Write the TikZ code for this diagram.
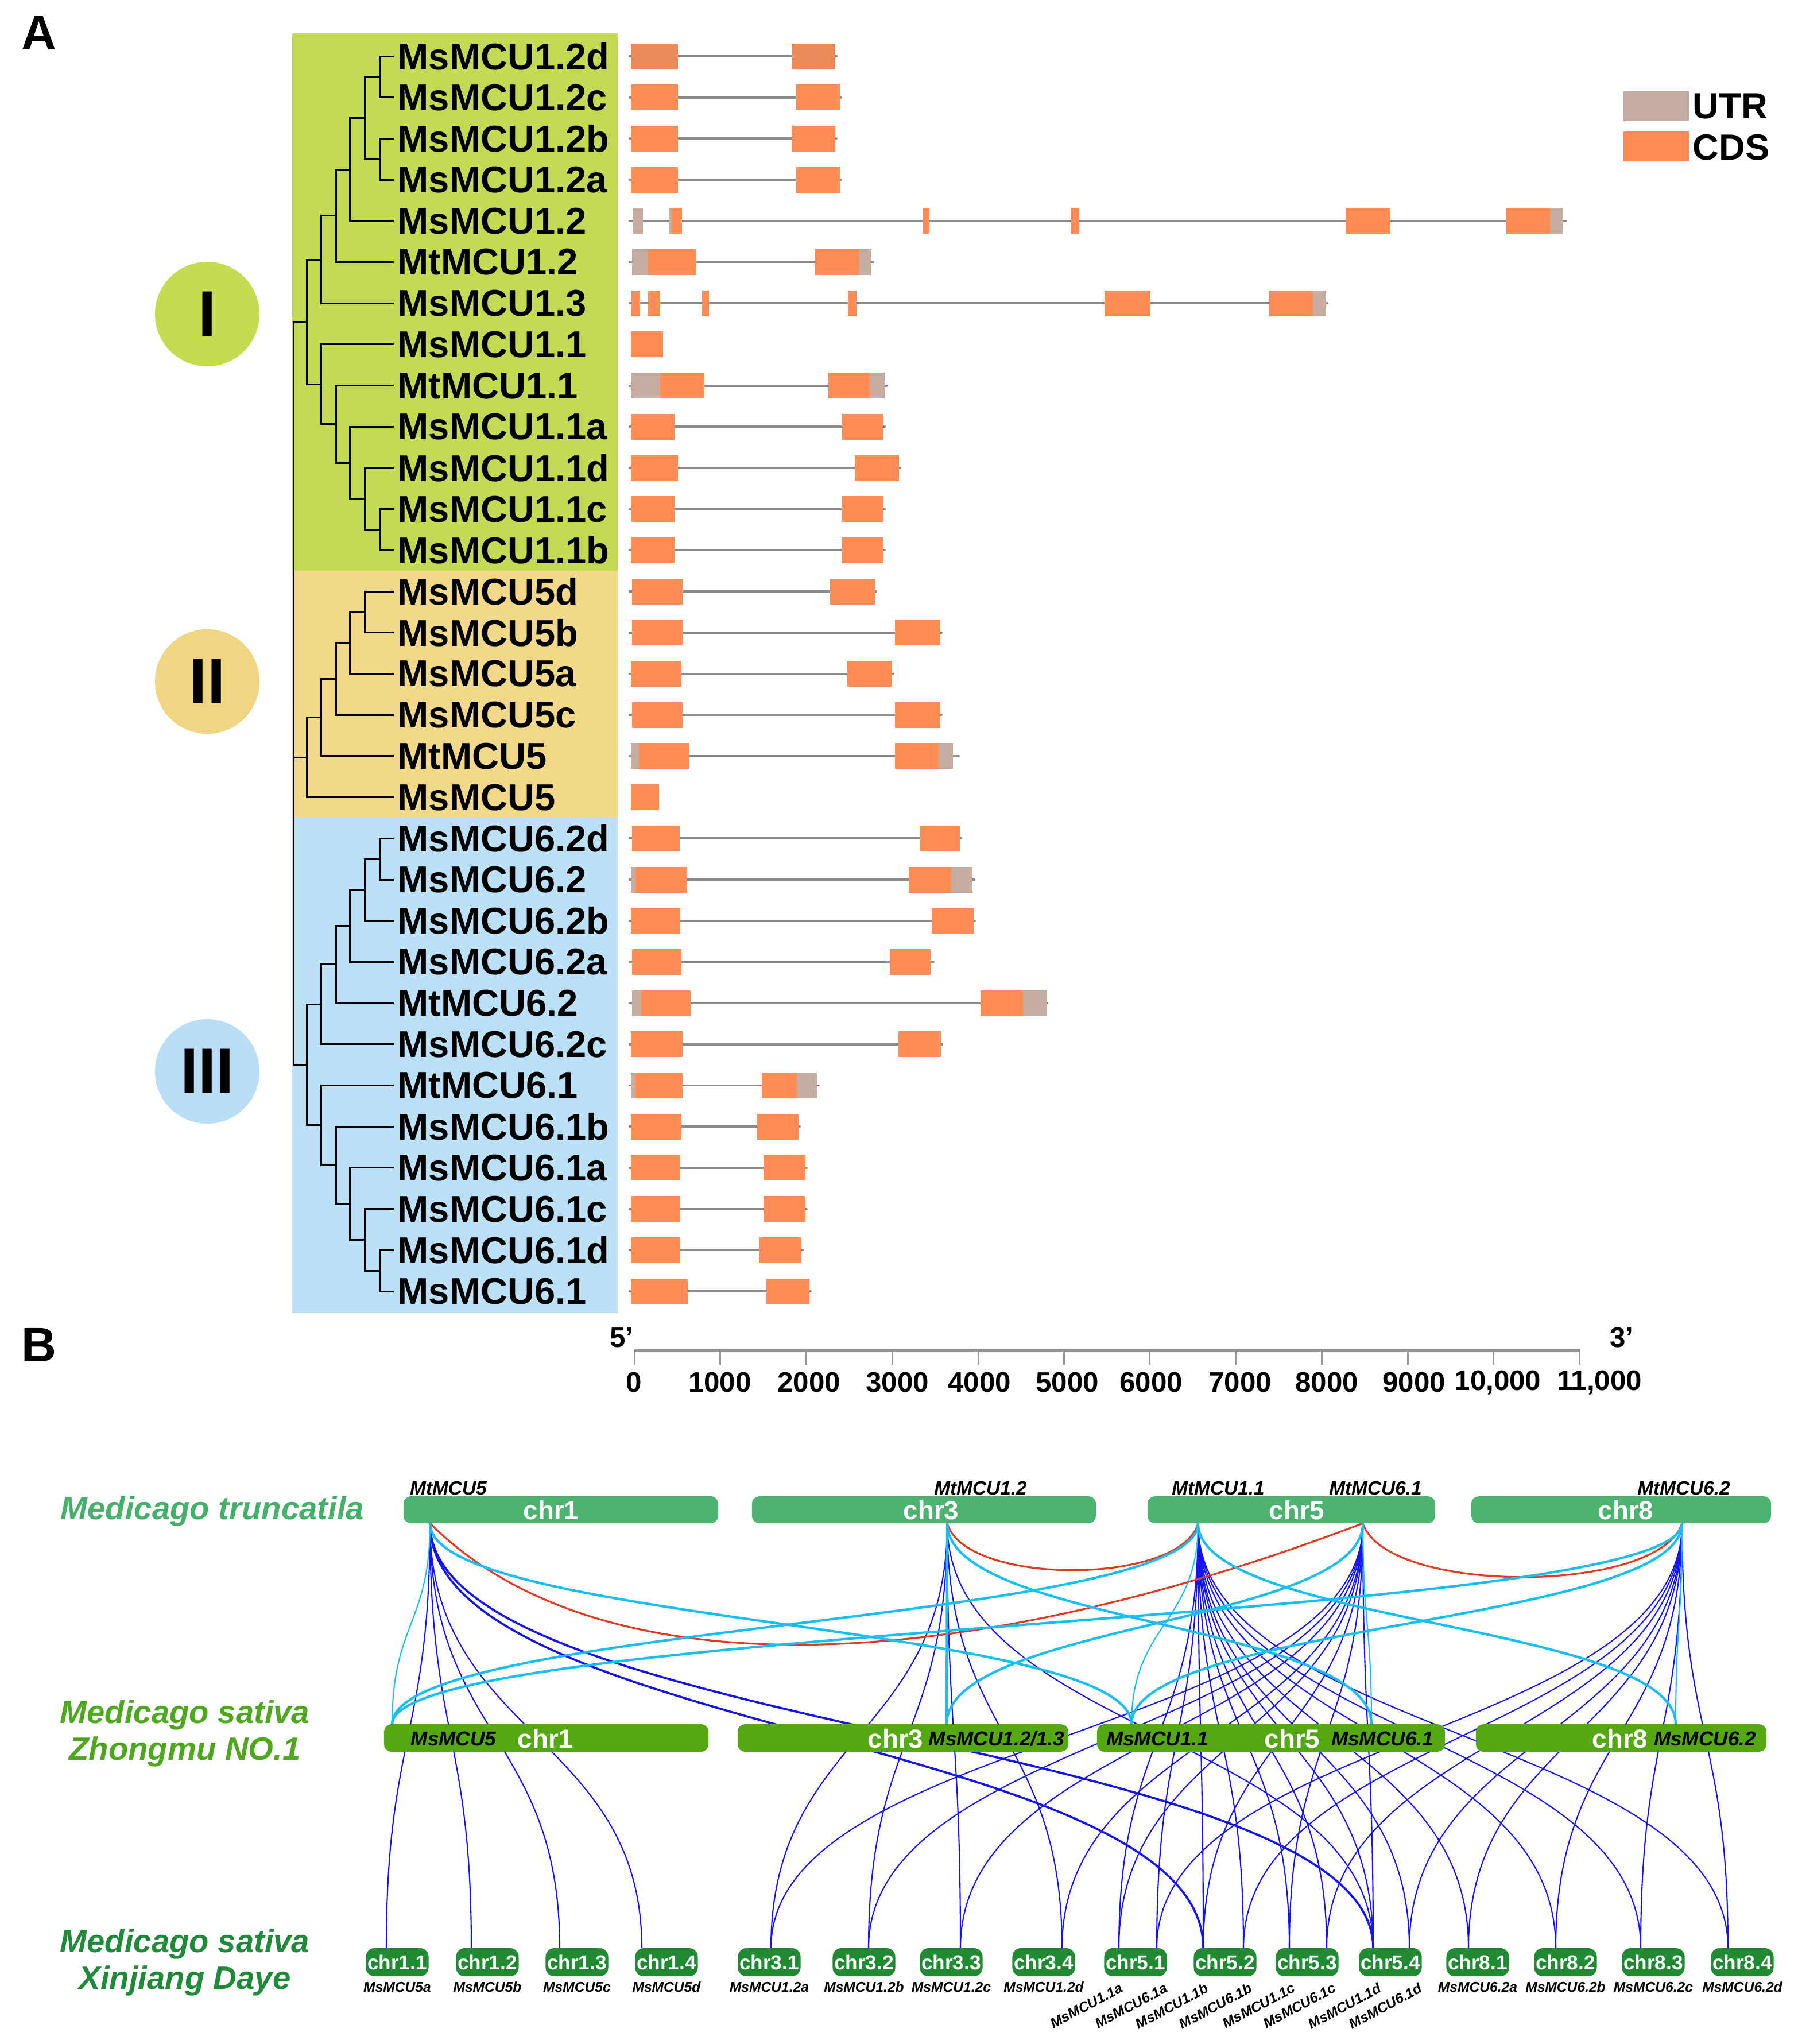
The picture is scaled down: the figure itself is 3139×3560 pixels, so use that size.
\documentclass[tikz,border=0pt]{standalone}
\usepackage{fontspec}
\setmainfont{Liberation Sans}
\newcommand{\fsz}[1]{\fontsize{#1}{#1}\selectfont}
\definecolor{cdsc}{RGB}{255,140,84}
\definecolor{cdsdark}{RGB}{233,138,88}
\definecolor{utrc}{RGB}{196,173,160}
\definecolor{intc}{RGB}{138,138,138}
\definecolor{grpI}{RGB}{196,217,84}
\definecolor{grpII}{RGB}{242,217,138}
\definecolor{grpIII}{RGB}{188,224,246}
\definecolor{circI}{RGB}{198,218,82}
\definecolor{circII}{RGB}{240,213,130}
\definecolor{circIII}{RGB}{186,222,245}
\definecolor{topc}{RGB}{77,179,112}
\definecolor{midc}{RGB}{84,168,20}
\definecolor{botc}{RGB}{33,139,52}
\definecolor{spA}{RGB}{69,176,106}
\definecolor{spB}{RGB}{78,168,30}
\definecolor{spC}{RGB}{31,139,58}
\definecolor{lnblue}{RGB}{20,20,240}
\definecolor{lncyan}{RGB}{25,190,245}
\definecolor{lnred}{RGB}{226,58,30}
\definecolor{axc}{RGB}{150,150,150}
\newcommand{\rowy}[1]{\pgfmathsetmacro{\ry}{98+71.7*#1}}
\newcommand{\intronln}[3]{\rowy{#1}\draw[intronst] (#2,\ry) -- (#3,\ry);}
\newcommand{\cdsbox}[3]{\rowy{#1}\fill[cdsc] (#2,{\ry-22.5}) rectangle (#3,{\ry+22.5});}
\newcommand{\cdsdk}[3]{\rowy{#1}\fill[cdsdark] (#2,{\ry-22.5}) rectangle (#3,{\ry+22.5});}
\newcommand{\utrbox}[3]{\rowy{#1}\fill[utrc] (#2,{\ry-22.5}) rectangle (#3,{\ry+22.5});}
\newcommand{\treebrk}[5]{\draw[treeln] (#2,#3) -- (#1,#3) -- (#1,#5) -- (#4,#5);}
\newcommand{\synTB}[3][]{\draw[blueln,#1] (#2) .. controls +(0,370) and +(0,-370) .. (#3);}
\newcommand{\synTM}[3][]{\draw[cyanln,#1] (#2) .. controls +(0,175) and +(0,-175) .. (#3);}
\begin{document}
\begin{tikzpicture}[x=0.01cm,y=-0.01cm,
  treeln/.style={line width=0.85pt,black},
  intronst/.style={draw=intc,line width=1.1pt,line cap=round},
  glabel/.style={anchor=west,inner sep=0pt,font=\fsz{18.5}\bfseries},
  grpcirc/.style={circle,inner sep=0pt,minimum size=1.82cm,font=\fsz{32}\bfseries},
  leglab/.style={anchor=west,inner sep=0pt,font=\fsz{18}\bfseries},
  numlab/.style={inner sep=0pt,font=\fsz{14}\bfseries},
  panlab/.style={inner sep=0pt,font=\fsz{24}\bfseries},
  blueln/.style={draw=lnblue,line width=0.6pt},
  cyanln/.style={draw=lncyan,line width=1.2pt},
  thincy/.style={line width=0.6pt},
  redln/.style={draw=lnred,line width=0.9pt},
  topchr/.style={fill=topc,rounded corners=0.13cm,minimum height=0.47cm,inner sep=0pt},
  midchr/.style={fill=midc,rounded corners=0.13cm,minimum height=0.48cm,inner sep=0pt},
  botchr/.style={fill=botc,rounded corners=0.15cm,minimum height=0.49cm,minimum width=1.09cm,inner sep=0pt,text=white,font=\fsz{10}\bfseries},
  chrlab/.style={inner sep=0pt,text=white,font=\fsz{13}\bfseries},
  mslab/.style={inner sep=0pt,font=\fsz{10}\bfseries\itshape},
  mtlab/.style={inner sep=0pt,font=\fsz{9.5}\bfseries\itshape},
  blab/.style={inner sep=0pt,font=\fsz{7}\bfseries\itshape},
  splab/.style={inner sep=0pt,align=center,font=\fontsize{16}{18.2}\selectfont\bfseries\itshape}
]
\useasboundingbox (0,0) rectangle (3139,3560);
\fill[white] (0,0) rectangle (3139,3560);

% ---------------- Panel A ----------------
\node[panlab] (labA) at (68,57) {A};
\fill[grpI] (509,58) rectangle (1076,994);
\fill[grpII] (509,994) rectangle (1076,1424);
\fill[grpIII] (509,1424) rectangle (1076,2287);

\node[grpcirc,fill=circI] (cI) at (361,547) {I};
\node[grpcirc,fill=circII] (cII) at (361,1187) {II};
\node[grpcirc,fill=circIII] (cIII) at (361,1866) {III};

% tree: group I
\treebrk{661}{686}{98}{686}{169.7}
\treebrk{661}{686}{241.4}{686}{313.1}
\treebrk{635}{661}{133.85}{661}{277.25}
\treebrk{609}{635}{205.55}{686}{384.8}
\treebrk{585}{609}{295.2}{686}{456.5}
\treebrk{559}{585}{375.85}{686}{528.2}
\treebrk{661}{686}{886.7}{686}{958.4}
\treebrk{635}{686}{815}{661}{922.55}
\treebrk{609}{686}{743.3}{635}{868.8}
\treebrk{585}{686}{671.6}{609}{806.05}
\treebrk{559}{686}{599.9}{585}{738.8}
\treebrk{534}{559}{452.0}{559}{669.35}
% group II
\treebrk{635}{686}{1030.1}{686}{1101.8}
\treebrk{609}{635}{1065.95}{686}{1173.5}
\treebrk{585}{609}{1119.7}{686}{1245.2}
\treebrk{559}{585}{1182.45}{686}{1316.9}
\treebrk{534}{559}{1249.7}{686}{1388.6}
% group III
\treebrk{661}{686}{1460.3}{686}{1532.0}
\treebrk{635}{661}{1496.15}{686}{1603.7}
\treebrk{609}{635}{1549.9}{686}{1675.4}
\treebrk{585}{609}{1612.65}{686}{1747.1}
\treebrk{559}{585}{1679.9}{686}{1818.8}
\treebrk{661}{686}{2177.3}{686}{2249.0}
\treebrk{635}{686}{2105.6}{661}{2213.15}
\treebrk{609}{686}{2033.9}{635}{2159.4}
\treebrk{585}{686}{1962.2}{609}{2096.65}
\treebrk{559}{686}{1890.5}{585}{2029.4}
\treebrk{534}{559}{1749.35}{559}{1959.95}
% root
\treebrk{511}{534}{560.7}{534}{1854.65}
\draw[treeln] (511,1319.15) -- (534,1319.15);

% gene labels
\foreach \i/\gname in {0/MsMCU1.2d,1/MsMCU1.2c,2/MsMCU1.2b,3/MsMCU1.2a,4/MsMCU1.2,5/MtMCU1.2,6/MsMCU1.3,7/MsMCU1.1,8/MtMCU1.1,9/MsMCU1.1a,10/MsMCU1.1d,11/MsMCU1.1c,12/MsMCU1.1b,13/MsMCU5d,14/MsMCU5b,15/MsMCU5a,16/MsMCU5c,17/MtMCU5,18/MsMCU5,19/MsMCU6.2d,20/MsMCU6.2,21/MsMCU6.2b,22/MsMCU6.2a,23/MtMCU6.2,24/MsMCU6.2c,25/MtMCU6.1,26/MsMCU6.1b,27/MsMCU6.1a,28/MsMCU6.1c,29/MsMCU6.1d,30/MsMCU6.1}
{\rowy{\i}\node[glabel] (g\i) at (692,\ry) {\gname};}

% gene structures
\intronln{0}{1097}{1457}\cdsdk{0}{1099}{1181}\cdsdk{0}{1380}{1455}
\intronln{1}{1097}{1465}\cdsbox{1}{1099}{1181}\cdsbox{1}{1387}{1463}
\intronln{2}{1097}{1457}\cdsbox{2}{1099}{1181}\cdsbox{2}{1380}{1455}
\intronln{3}{1097}{1465}\cdsbox{3}{1099}{1181}\cdsbox{3}{1387}{1463}
\intronln{4}{1097}{2727}\utrbox{4}{1102}{1120}\utrbox{4}{1165}{1170}\cdsbox{4}{1170}{1188}\cdsbox{4}{1608}{1619}\cdsbox{4}{1866}{1880}\cdsbox{4}{2344}{2422}\cdsbox{4}{2624}{2700}\utrbox{4}{2700}{2723}
\intronln{5}{1097}{1521}\utrbox{5}{1101}{1129}\cdsbox{5}{1129}{1213}\cdsbox{5}{1420}{1496}\utrbox{5}{1496}{1517}
\intronln{6}{1097}{2312}\cdsbox{6}{1100}{1115}\cdsbox{6}{1129}{1150}\cdsbox{6}{1223}{1235}\cdsbox{6}{1477}{1492}\cdsbox{6}{1924}{2004}\cdsbox{6}{2211}{2287}\utrbox{6}{2287}{2310}
\cdsbox{7}{1099}{1155}
\intronln{8}{1097}{1545}\utrbox{8}{1099}{1150}\cdsbox{8}{1150}{1227}\cdsbox{8}{1443}{1515}\utrbox{8}{1515}{1541}
\intronln{9}{1097}{1541}\cdsbox{9}{1099}{1175}\cdsbox{9}{1467}{1538}
\intronln{10}{1097}{1568}\cdsbox{10}{1099}{1181}\cdsbox{10}{1489}{1566}
\intronln{11}{1097}{1541}\cdsbox{11}{1099}{1175}\cdsbox{11}{1467}{1538}
\intronln{12}{1097}{1541}\cdsbox{12}{1099}{1175}\cdsbox{12}{1467}{1538}
\intronln{13}{1097}{1526}\cdsbox{13}{1101}{1189}\cdsbox{13}{1446}{1524}
\intronln{14}{1097}{1640}\cdsbox{14}{1101}{1189}\cdsbox{14}{1559}{1638}
\intronln{15}{1097}{1556}\cdsbox{15}{1099}{1187}\cdsbox{15}{1476}{1554}
\intronln{16}{1097}{1640}\cdsbox{16}{1101}{1189}\cdsbox{16}{1559}{1638}
\intronln{17}{1097}{1670}\utrbox{17}{1099}{1113}\cdsbox{17}{1113}{1200}\cdsbox{17}{1559}{1635}\utrbox{17}{1635}{1660}
\cdsbox{18}{1099}{1148}
\intronln{19}{1097}{1674}\cdsbox{19}{1101}{1184}\cdsbox{19}{1603}{1672}
\intronln{20}{1097}{1697}\utrbox{20}{1099}{1107}\cdsbox{20}{1107}{1197}\cdsbox{20}{1583}{1657}\utrbox{20}{1657}{1694}
\intronln{21}{1097}{1698}\cdsbox{21}{1099}{1185}\cdsbox{21}{1623}{1696}
\intronln{22}{1097}{1626}\cdsbox{22}{1101}{1187}\cdsbox{22}{1550}{1621}
\intronln{23}{1097}{1824}\utrbox{23}{1101}{1117}\cdsbox{23}{1117}{1203}\cdsbox{23}{1708}{1782}\utrbox{23}{1782}{1824}
\intronln{24}{1097}{1641}\cdsbox{24}{1099}{1189}\cdsbox{24}{1565}{1639}
\intronln{25}{1097}{1426}\utrbox{25}{1099}{1107}\cdsbox{25}{1107}{1189}\cdsbox{25}{1327}{1388}\utrbox{25}{1388}{1423}
\intronln{26}{1097}{1393}\cdsbox{26}{1099}{1187}\cdsbox{26}{1319}{1391}
\intronln{27}{1097}{1405}\cdsbox{27}{1099}{1185}\cdsbox{27}{1330}{1403}
\intronln{28}{1097}{1405}\cdsbox{28}{1099}{1185}\cdsbox{28}{1330}{1403}
\intronln{29}{1097}{1398}\cdsbox{29}{1099}{1185}\cdsbox{29}{1323}{1396}
\intronln{30}{1097}{1412}\cdsbox{30}{1099}{1198}\cdsbox{30}{1335}{1410}

% legend
\fill[utrc] (2828,159) rectangle (2942,211);
\node[leglab] (legU) at (2948,185) {UTR};
\fill[cdsc] (2828,229) rectangle (2942,281);
\node[leglab] (legC) at (2948,257) {CDS};

% axis
\draw[axc,line width=1.4pt] (1105,2352) -- (2752,2352);
\foreach \k in {0,...,11} {\draw[axc,line width=0.7pt] ({1105+149.7*\k},2352) -- ({1105+149.7*\k},2377);}
\node[numlab] (p5) at (1083,2330) {5'};
\node[numlab] (p3) at (2825,2330) {3'};
\foreach \lab/\xx in {0/1104,1000/1254,2000/1409,3000/1563,4000/1706,5000/1859,6000/2005,7000/2160,8000/2311,9000/2463}
{\node[numlab] (n\lab) at (\xx,2408) {\lab};}
\node[numlab] (n10k) at (2609,2408) {10,000};
\node[numlab] (n11k) at (2786,2408) {11,000};

% ---------------- Panel B ----------------
\node[panlab] (labB) at (68,2342) {B};
\node[splab,text=spA] (spMt) at (370,2632) {Medicago truncatila};
\node[splab,text=spB] (spZh) at (322,3019) {Medicago sativa\\Zhongmu NO.1};
\node[splab,text=spC] (spXj) at (322,3418) {Medicago sativa\\Xinjiang Daye};

% gene anchor points
\coordinate (t5) at (749,2653);
\coordinate (t12) at (1650,2653);
\coordinate (t11) at (2087,2653);
\coordinate (t61) at (2374,2653);
\coordinate (t62) at (2930,2653);
\coordinate (m5) at (683,3003);
\coordinate (m12) at (1649,3003);
\coordinate (m11) at (1971,3003);
\coordinate (m61) at (2389,3003);
\coordinate (m62) at (2919,3003);
\coordinate (b1a) at (673,3393);
\coordinate (b1b) at (821,3393);
\coordinate (b1c) at (975,3393);
\coordinate (b1d) at (1118,3393);
\coordinate (b3a) at (1343,3393);
\coordinate (b3b) at (1513,3393);
\coordinate (b3c) at (1673,3393);
\coordinate (b3d) at (1850,3393);
\coordinate (b11a) at (1949,3393);
\coordinate (b61a) at (2015,3393);
\coordinate (b11b) at (2096,3393);
\coordinate (b61b) at (2166,3393);
\coordinate (b11c) at (2246,3393);
\coordinate (b61c) at (2311,3393);
\coordinate (b11d) at (2392,3393);
\coordinate (b61d) at (2455,3393);
\coordinate (b8a) at (2558,3393);
\coordinate (b8b) at (2710,3393);
\coordinate (b8c) at (2858,3393);
\coordinate (b8d) at (3010,3393);

% blue links
\foreach \e in {b1a,b1b,b1c,b1d} {\synTB{t5}{\e}}
\synTB[line width=1.05pt]{t5}{b11b}
\synTB[line width=1.05pt]{t5}{b11d}
\foreach \e in {b3a,b3b,b3c,b3d,b11d} {\synTB{t12}{\e}}
\foreach \e in {b11a,b61a,b11b,b61b,b11c,b61c,b11d,b61d,b8a,b8b,b8c,b8d} {\synTB{t11}{\e}}
\foreach \e in {b3a,b3b,b3c,b3d,b11a,b11b,b11c,b11d} {\synTB{t61}{\e}}
\foreach \e in {b61a,b61b,b61c,b61d,b8a,b8b,b8c,b8d} {\synTB{t62}{\e}}

% red links
\draw[redln] (t5) .. controls +(290,290) and +(-720,274) .. (t61);
\draw[redln] (t12) .. controls +(30,109) and +(-30,109) .. (t11);
\draw[redln] (t61) .. controls +(40,125) and +(-40,125) .. (t62);

% cyan links
\synTM[thincy]{t5}{m5}
\synTM{t5}{m11}
\synTM{t12}{m12}
\synTM{t12}{m61}
\synTM{t11}{m5}
\synTM[thincy]{t11}{m11}
\synTM{t11}{m62}
\synTM{t61}{m12}
\synTM[thincy]{t61}{m61}
\synTM{t62}{m5}
\synTM{t62}{m11}
\synTM[thincy]{t62}{m62}

% top chromosomes
\node[topchr,minimum width=5.48cm] (tc1) at (977,2629.5) {};
\node[topchr,minimum width=5.99cm] (tc3) at (1609.5,2629.5) {};
\node[topchr,minimum width=5.01cm] (tc5) at (2249.5,2629.5) {};
\node[topchr,minimum width=5.22cm] (tc8) at (2824,2629.5) {};
\node[chrlab] (tc1l) at (960,2630) {chr1};
\node[chrlab] (tc3l) at (1622,2630) {chr3};
\node[chrlab] (tc5l) at (2259,2630) {chr5};
\node[chrlab] (tc8l) at (2832,2630) {chr8};
\node[mtlab] (tg5) at (781,2592) {MtMCU5};
\node[mtlab] (tg12) at (1708,2592) {MtMCU1.2};
\node[mtlab] (tg11) at (2122,2592) {MtMCU1.1};
\node[mtlab] (tg61) at (2396,2592) {MtMCU6.1};
\node[mtlab] (tg62) at (2933,2592) {MtMCU6.2};

% middle chromosomes
\node[midchr,minimum width=5.65cm] (mc1) at (951.5,3027) {};
\node[midchr,minimum width=5.76cm] (mc3) at (1573,3027) {};
\node[midchr,minimum width=6.06cm] (mc5) at (2214,3027) {};
\node[midchr,minimum width=5.06cm] (mc8) at (2824,3027) {};
\node[mslab] (mg5) at (790,3028) {MsMCU5};
\node[chrlab] (mc1l) at (950,3028) {chr1};
\node[chrlab] (mc3l) at (1560,3028) {chr3};
\node[mslab] (mg12) at (1736,3028) {MsMCU1.2/1.3};
\node[mslab] (mg11) at (2016,3028) {MsMCU1.1};
\node[chrlab] (mc5l) at (2251,3028) {chr5};
\node[mslab] (mg61) at (2408,3028) {MsMCU6.1};
\node[chrlab] (mc8l) at (2822,3028) {chr8};
\node[mslab] (mg62) at (2970,3028) {MsMCU6.2};

% bottom chromosomes
\foreach \nm/\cx/\lab/\gn in {c11/692/chr1.1/MsMCU5a,c12/849/chr1.2/MsMCU5b,c13/1005/chr1.3/MsMCU5c,c14/1161/chr1.4/MsMCU5d,c31/1340/chr3.1/MsMCU1.2a,c32/1505/chr3.2/MsMCU1.2b,c33/1657/chr3.3/MsMCU1.2c,c34/1818/chr3.4/MsMCU1.2d,c81/2574/chr8.1/MsMCU6.2a,c82/2727/chr8.2/MsMCU6.2b,c83/2880/chr8.3/MsMCU6.2c,c84/3035/chr8.4/MsMCU6.2d}
{\node[botchr] (\nm) at (\cx,3417.5) {\lab};
 \node[blab] (l\nm) at (\cx,3461) {\gn};}
\foreach \nm/\cx/\lab in {c51/1978/chr5.1,c52/2134/chr5.2,c53/2277/chr5.3,c54/2422/chr5.4}
{\node[botchr] (\nm) at (\cx,3417.5) {\lab};}
\foreach \nm/\ex/\gn in {r1/1950/MsMCU1.1a,r2/2028/MsMCU6.1a,r3/2099/MsMCU1.1b,r4/2175/MsMCU6.1b,r5/2250/MsMCU1.1c,r6/2321/MsMCU6.1c,r7/2400/MsMCU1.1d,r8/2471/MsMCU6.1d}
{\node[blab,rotate=28,anchor=north east] (\nm) at (\ex,3452) {\gn};}
\end{tikzpicture}
\end{document}
